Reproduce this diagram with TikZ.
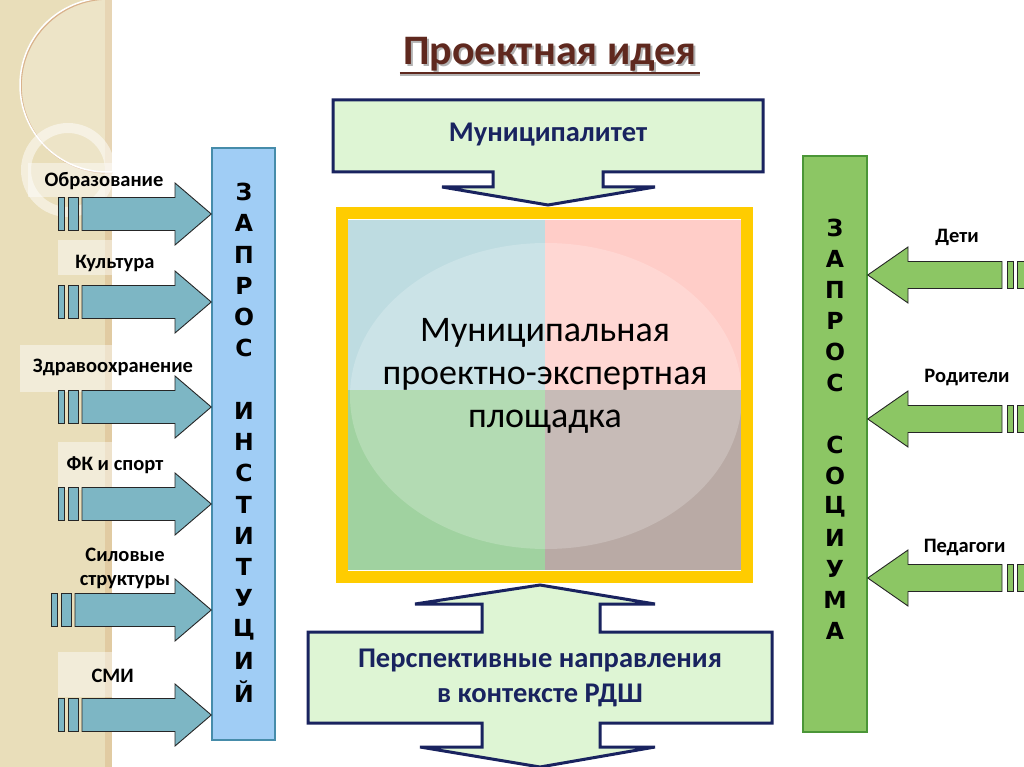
\documentclass[tikz,border=0pt]{standalone}
\usepackage{fontspec}
\setmainfont{Carlito}
\newfontfamily\barfont{DejaVu Sans}
\usetikzlibrary{positioning}
\definecolor{stripbeige}{RGB}{233,222,186}
\definecolor{tealfill}{RGB}{125,182,196}
\definecolor{instblue}{RGB}{160,205,245}
\definecolor{instedge}{RGB}{70,140,170}
\definecolor{socgreen}{RGB}{140,198,100}
\definecolor{socedge}{RGB}{75,150,55}
\definecolor{calloutfill}{RGB}{222,245,212}
\definecolor{navy}{RGB}{25,35,95}
\definecolor{frameyellow}{RGB}{255,204,0}
\definecolor{titlebrown}{RGB}{95,40,30}
\definecolor{qtl}{RGB}{190,220,225}
\definecolor{qtr}{RGB}{255,205,200}
\definecolor{qbl}{RGB}{160,210,160}
\definecolor{qbr}{RGB}{185,170,165}
\tikzset{
  blockarrow/.style={draw=black!85, line width=0.9pt},
  sidelabel/.style={font=\fontsize{20.5}{24}\selectfont\bfseries, align=center, inner sep=0pt},
  barletter/.style={font=\barfont\fontsize{23.5}{24}\selectfont\bfseries, inner sep=0pt},
  callout/.style={draw=navy, line width=3pt, fill=calloutfill},
  callouttext/.style={text=navy, font=\fontsize{28.5}{35}\selectfont\bfseries, align=center}
}
\begin{document}
\begin{tikzpicture}[x=1pt,y=-1pt]
  \useasboundingbox (0,0) rectangle (1024,767);
  \fill[white] (0,0) rectangle (1024,767);

  \fill[stripbeige] (0,0) rectangle (112,767);
  \fill[stripbeige!80!brown] (105,0) rectangle (112,767);
  \begin{scope}
    \clip (0,0) rectangle (112,767);
    \fill[white, opacity=0.2] (107,85) circle (87);
    \draw[brown!60, line width=1.5pt] (108,86) circle (87);
    \draw[white, line width=1.5pt] (107,85) circle (87);
    \draw[white, opacity=0.5, line width=10pt] (68,170) circle (42);
  \end{scope}
  \foreach \xa/\ya/\xb/\yb in {28/163/112/197, 58/240/112/275, 20/345/112/392, 58/442/112/490, 58/652/112/697}
    \fill[white, opacity=0.45] (\xa,\ya) rectangle (\xb,\yb);

  \node[text=gray!60, font=\fontsize{42}{42}\selectfont\bfseries, anchor=base] at (552,67) {Проектная идея};
  \node (title) [text=titlebrown, font=\fontsize{42}{42}\selectfont\bfseries, anchor=base] at (550,65) {Проектная идея};
  \draw[gray!60, line width=2.5pt] ([yshift=-10pt]title.base west) -- ([yshift=-10pt]title.base east);
  \draw[titlebrown, line width=2.5pt] ([yshift=-8pt]title.base west) -- ([yshift=-8pt]title.base east);

  \node (instbar) [draw=instedge, fill=instblue, line width=1.5pt, minimum width=63, minimum height=592, inner sep=0pt] at (243.5,444) {};
  \node (socbar) [draw=socedge, fill=socgreen, line width=1.5pt, minimum width=64, minimum height=576, inner sep=0pt] at (835,444) {};

  \foreach \ch [count=\i from 0] in {З,А,П,Р,О,С}
    \node (inst-\i) [barletter] at (244,192+31.25*\i) {\ch};
  \foreach \ch [count=\i from 7] in {И,Н,С,Т,И,Т,У,Ц,И,Й}
    \node (inst-\i) [barletter] at (244,192+31.25*\i) {\ch};
  \foreach \ch [count=\i from 0] in {З,А,П,Р,О,С}
    \node (soc-\i) [barletter] at (835,228+31*\i) {\ch};
  \foreach \ch [count=\i from 7] in {С,О,Ц,И,У,М,А}
    \node (soc-\i) [barletter] at (835,228+31*\i) {\ch};

  \foreach \y/\dx/\lx/\ly/\lab [count=\i] in {
    214/0/104/181/Образование,
    302/0/115/263/Культура,
    407/0/113/367/Здравоохранение,
    504/0/115/465/ФК и спорт,
    610/-7/125/568/Силовые\\структуры,
    715/0/115/676/СМИ
  }{
    \draw[blockarrow, fill=tealfill] (58+\dx,\y-16.5) rectangle ++(6,33);
    \draw[blockarrow, fill=tealfill] (68+\dx,\y-16.5) rectangle ++(10,33);
    \draw[blockarrow, fill=tealfill] (82+\dx,\y-16.5) -- (175,\y-16.5) -- (175,\y-31)
      -- (instbar.west |- 0,\y) -- (175,\y+31) -- (175,\y+16.5) -- (82+\dx,\y+16.5) -- cycle;
    \node (inlab-\i) [sidelabel] at (\lx,\ly) {\lab};
  }

  \foreach \y/\lx/\ly/\lab [count=\i] in {
    275/957/237/Дети,
    419/967/378/Родители,
    578/967/547/Педагоги
  }{
    \draw[blockarrow, fill=socgreen] (1002,\y-13.5) -- (908,\y-13.5) -- (908,\y-28)
      -- (socbar.east |- 0,\y) -- (908,\y+28) -- (908,\y+13.5) -- (1002,\y+13.5) -- cycle;
    \draw[blockarrow, fill=socgreen] (1007,\y-13.5) rectangle ++(6,27);
    \draw[blockarrow, fill=socgreen] (1017,\y-13.5) rectangle ++(10,27);
    \node (soclab-\i) [sidelabel] at (\lx,\ly) {\lab};
  }

  \fill[qtl] (348,220) rectangle (545,390);
  \fill[qtr] (545,220) rectangle (741,390);
  \fill[qbl] (348,390) rectangle (545,570);
  \fill[qbr] (545,390) rectangle (741,570);
  \fill[white, opacity=0.2] (546,396) ellipse (196 and 153);
  \draw[frameyellow, line width=12pt] (341.5,213.5) rectangle (746.5,576.5);
  \node (platform) [font=\fontsize{36}{43}\selectfont, align=center] at (545,376)
    {Муниципальная\\проектно-экспертная\\площадка};

  \draw[callout] (333,100) -- (763,100) -- (763,172) -- (603,172) -- (603,187) -- (655,187)
    -- (548,205) -- (442,187) -- (493,187) -- (493,172) -- (333,172) -- cycle;
  \node (municipality) [callouttext] at (548,135) {Муниципалитет};

  \draw[callout] (540,585) -- (655,604) -- (600,604) -- (600,632) -- (772,632) -- (772,723)
    -- (600,723) -- (600,747) -- (655,747) -- (540,767) -- (420,747) -- (482,747)
    -- (482,723) -- (308,723) -- (308,632) -- (482,632) -- (482,604) -- (415,604) -- cycle;
  \node (prospects) [callouttext] at (540,678) {Перспективные направления\\в контексте РДШ};
\end{tikzpicture}
\end{document}
